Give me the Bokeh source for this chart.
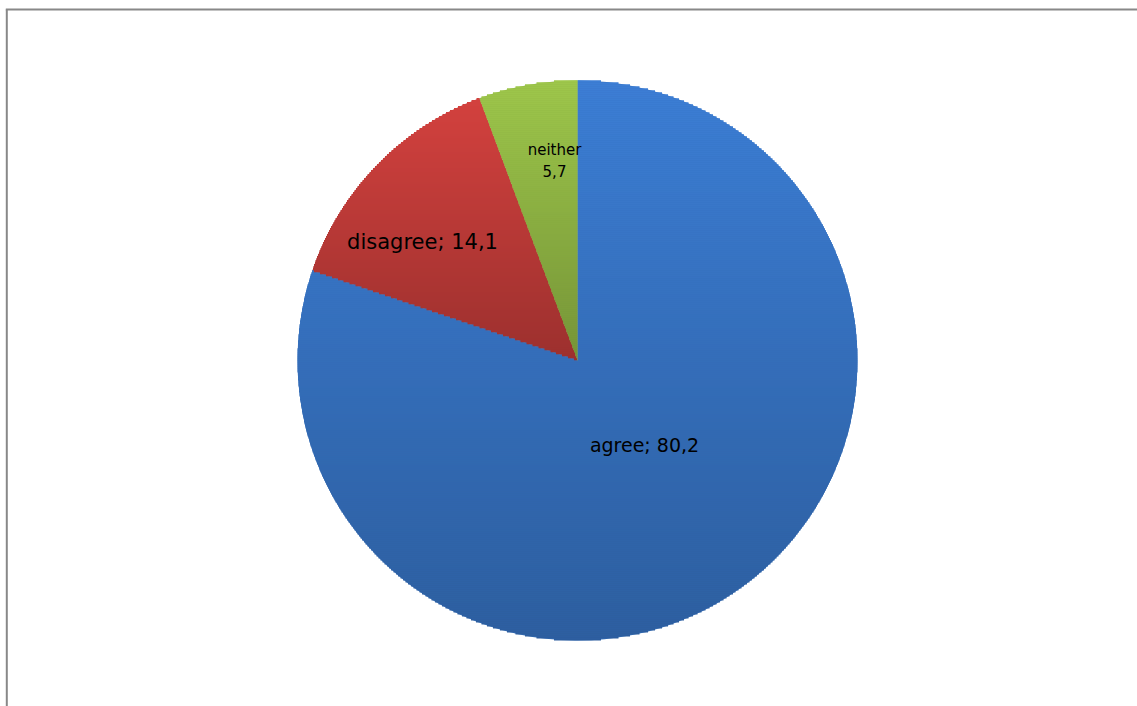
import numpy as np
from bokeh.plotting import figure
from bokeh.models import Range1d, ColumnDataSource
from bokeh.embed import file_html
from bokeh.resources import INLINE
from bokeh.core.properties import value

# ---- data ----
categories = ["agree", "disagree", "neither"]
values = [80.2, 14.1, 5.7]
label_lines = [["agree; 80,2"], ["disagree; 14,1"], ["neither", "5,7"]]

# ---- styles ----
top_colors = ["#3C7ED5", "#D3413E", "#9EC74B"]
dark_factor = 0.74
label_sizes = ["19px", "21px", "15px"]
# label offsets from the pie centre (pixels)
label_dx = [67, -155, -23]
label_dy = [-84, 119, [211, 190]]

W, H = 1137, 706
cx, cy, R = 577, 346, 280

p = figure(width=W, height=H, output_backend="svg", toolbar_location=None,
           x_range=Range1d(0, W), y_range=Range1d(0, H), min_border=0)
p.axis.visible = False
p.grid.visible = False
p.outline_line_color = None
p.background_fill_color = "white"
p.border_fill_color = "white"


def hex2rgb(h):
    h = h.lstrip("#")
    return np.array([int(h[i:i + 2], 16) for i in (0, 2, 4)], dtype=float)


def rgb2hex(c):
    c = np.clip(np.round(c), 0, 255).astype(int)
    return "#%02x%02x%02x" % tuple(c)


fracs = np.array(values) / np.sum(values)
cum = np.concatenate([[0.0], np.cumsum(fracs)])
start = np.pi / 2 - cum[:-1] * 2 * np.pi
end = np.pi / 2 - cum[1:] * 2 * np.pi

mid_colors = [rgb2hex(hex2rgb(c) * (1 + dark_factor) / 2) for c in top_colors]
src = ColumnDataSource(dict(cat=categories, val=values, start=start, end=end, color=mid_colors))
p.wedge(x=cx, y=cy, radius=R, start_angle="start", end_angle="end", direction="clock",
        fill_color="color", line_color=None, source=src)

# vertical gradient per slice, drawn as horizontal bands clipped to the slice
L, Rt, B, T, C = [], [], [], [], []
h = 2.0
xs = np.arange(cx - R, cx + R, 0.5) + 0.25
for i in range(len(values)):
    span = start[i] - end[i]
    ang = np.linspace(end[i], start[i], 400)
    ys_b = np.concatenate([cy + R * np.sin(ang), [cy]])
    ymin, ymax = ys_b.min(), ys_b.max()
    c0 = hex2rgb(top_colors[i])
    c1 = c0 * dark_factor
    yb = ymax
    while yb > ymin:
        ym = yb - h / 2
        dy = ym - cy
        theta = np.arctan2(dy, xs - cx)
        inside = ((xs - cx) ** 2 + dy ** 2 <= R * R) & (np.mod(start[i] - theta, 2 * np.pi) <= span)
        if inside.any():
            d = np.diff(np.concatenate([[0], inside.astype(int), [0]]))
            s_idx = np.where(d == 1)[0]
            e_idx = np.where(d == -1)[0] - 1
            t = (ymax - ym) / (ymax - ymin)
            col = rgb2hex(c0 + (c1 - c0) * t)
            for a, b in zip(s_idx, e_idx):
                L.append(xs[a] - 0.25)
                Rt.append(xs[b] + 0.25)
                T.append(yb + 0.3)
                B.append(yb - h)
                C.append(col)
        yb -= h
p.quad(left=L, right=Rt, top=T, bottom=B, fill_color=C, line_color=None)

# labels
for i, lines in enumerate(label_lines):
    dys = label_dy[i] if isinstance(label_dy[i], list) else [label_dy[i]]
    for line, dyy in zip(lines, dys):
        p.text(x=[cx + label_dx[i]], y=[cy + dyy], text=[line],
               text_font=value("DejaVu Sans"), text_font_size=label_sizes[i],
               text_color="#000000", text_align="center", text_baseline="middle")

# chart border (top and left edges visible)
bx, by = 6.3, H - 9
p.segment(x0=[bx - 1, bx], y0=[by, by], x1=[W, bx], y1=[by, 0],
          line_color="#888888", line_width=2, line_cap="butt")

open("out.html", "w").write(file_html(p, INLINE))
